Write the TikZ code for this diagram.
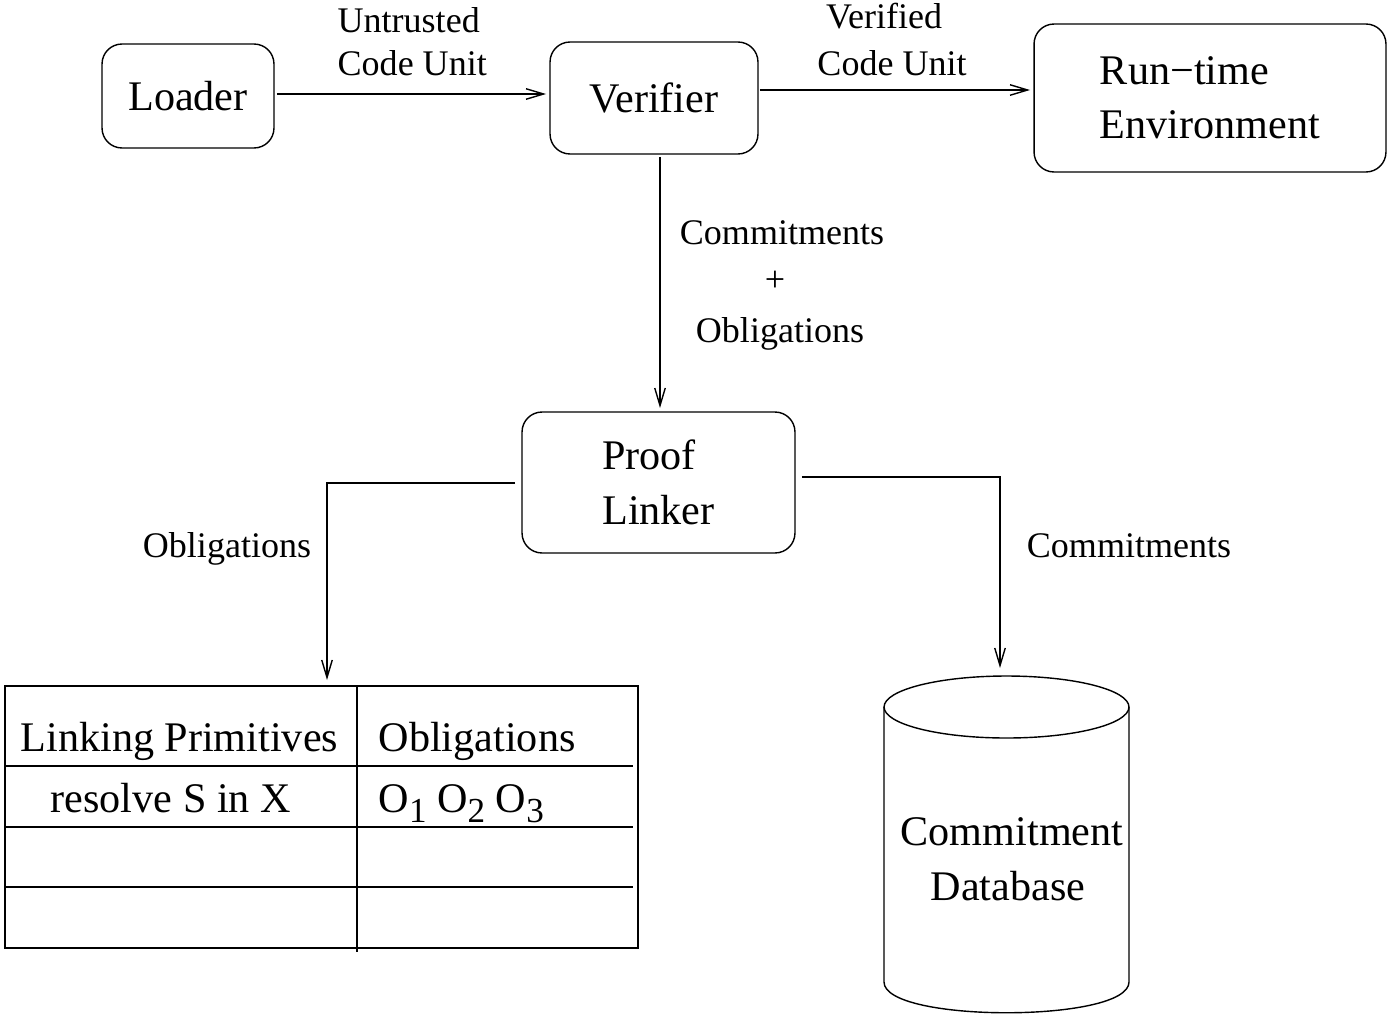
\documentclass[tikz,border=0pt]{standalone}
\usepackage{fontspec}
\setmainfont{Liberation Serif}
\usetikzlibrary{arrows.meta}
\newcommand{\lowsub}[1]{\raisebox{-0.55ex}{\fontsize{20}{20}\selectfont #1}}
\begin{document}
\begin{tikzpicture}[x=0.02cm,y=-0.02cm,
  line width=0.8pt,
  box/.style={draw, rounded corners=0.4cm, inner sep=0pt, outer sep=0pt, align=left,
    font=\fontsize{24}{31}\selectfont},
  lbl/.style={inner sep=0pt, anchor=base, font=\fontsize{20.5}{24}\selectfont},
  big/.style={inner sep=0pt, anchor=base, font=\fontsize{24}{31}\selectfont},
  arr/.style={-{Straight Barb[length=10pt,width=6pt,line width=0.8pt]}}]
\useasboundingbox (0,0) rectangle (1388,1014);

% boxes
\node[box, minimum width=3.44cm, minimum height=2.08cm] (loader) at (188,96) {Loader};
\node[box, minimum width=4.16cm, minimum height=2.24cm] (verifier) at (654,98) {Verifier};
\node[box, minimum width=7.04cm, minimum height=2.96cm] (runtime) at (1210,98) {Run−time\\Environment};
\node[box, minimum width=5.46cm, minimum height=2.82cm] (proof) at (658.5,482.5) {Proof\\Linker};

% helper coordinates
\coordinate (ya) at (0,94);
\coordinate (yb) at (0,90);
\coordinate (xv) at (660,0);
\coordinate (yl) at (0,483);
\coordinate (yr) at (0,477);
\coordinate (tabtop) at (327,686);
\coordinate (dbtop) at (1000,676);

% edges
\draw[arr, shorten <=0.06cm, shorten >=0.08cm] (loader.east |- ya) -- (verifier.west |- ya);
\draw[arr, shorten <=0.04cm, shorten >=0.08cm] (verifier.east |- yb) -- (runtime.west |- yb);
\draw[arr, shorten <=0.06cm, shorten >=0.08cm] (verifier.south -| xv) -- (proof.north -| xv);
\draw[arr, shorten <=0.14cm, shorten >=0.12cm] (proof.west |- yl) -| (tabtop);
\draw[arr, shorten <=0.14cm, shorten >=0.16cm] (proof.east |- yr) -| (dbtop);

% edge labels
\node[lbl, anchor=base west] (l1a) at (337,32) {Untrusted};
\node[lbl, anchor=base west] (l1b) at (337,75) {Code Unit};
\node[lbl] (l2a) at (884,29) {Verified};
\node[lbl] (l2b) at (892,75) {Code Unit};
\node[lbl] (l3a) at (782,244) {Commitments};
\node[lbl] (l3b) at (775,291) {+};
\node[lbl] (l3c) at (780,342) {Obligations};
\node[lbl] (l4) at (227,557) {Obligations};
\node[lbl] (l5) at (1129,557) {Commitments};

% table
\draw (5,686) rectangle (638,948);
\draw (357,686) -- (357,952);
\draw (5,766) -- (633,766);
\draw (5,827) -- (633,827);
\draw (5,887) -- (633,887);
\node[big, anchor=base west] (t1) at (20,751) {Linking Primitives};
\node[big, anchor=base west] (t2) at (378,751) {Obligations};
\node[big, anchor=base west] (t3) at (50,812) {resolve S in X};
\node[big, anchor=base west] (t4) at (378,812) {O\lowsub{1} O\lowsub{2} O\lowsub{3}};

% database cylinder
\draw (1006.5,707) ellipse [x radius=2.45cm, y radius=0.62cm];
\draw (884,707) -- (884,982) .. controls (884,1023) and (1129,1023) .. (1129,982) -- (1129,707);
\node[big] (db1) at (1012,845) {Commitment};
\node[big] (db2) at (1008,900) {Database};
\end{tikzpicture}
\end{document}
